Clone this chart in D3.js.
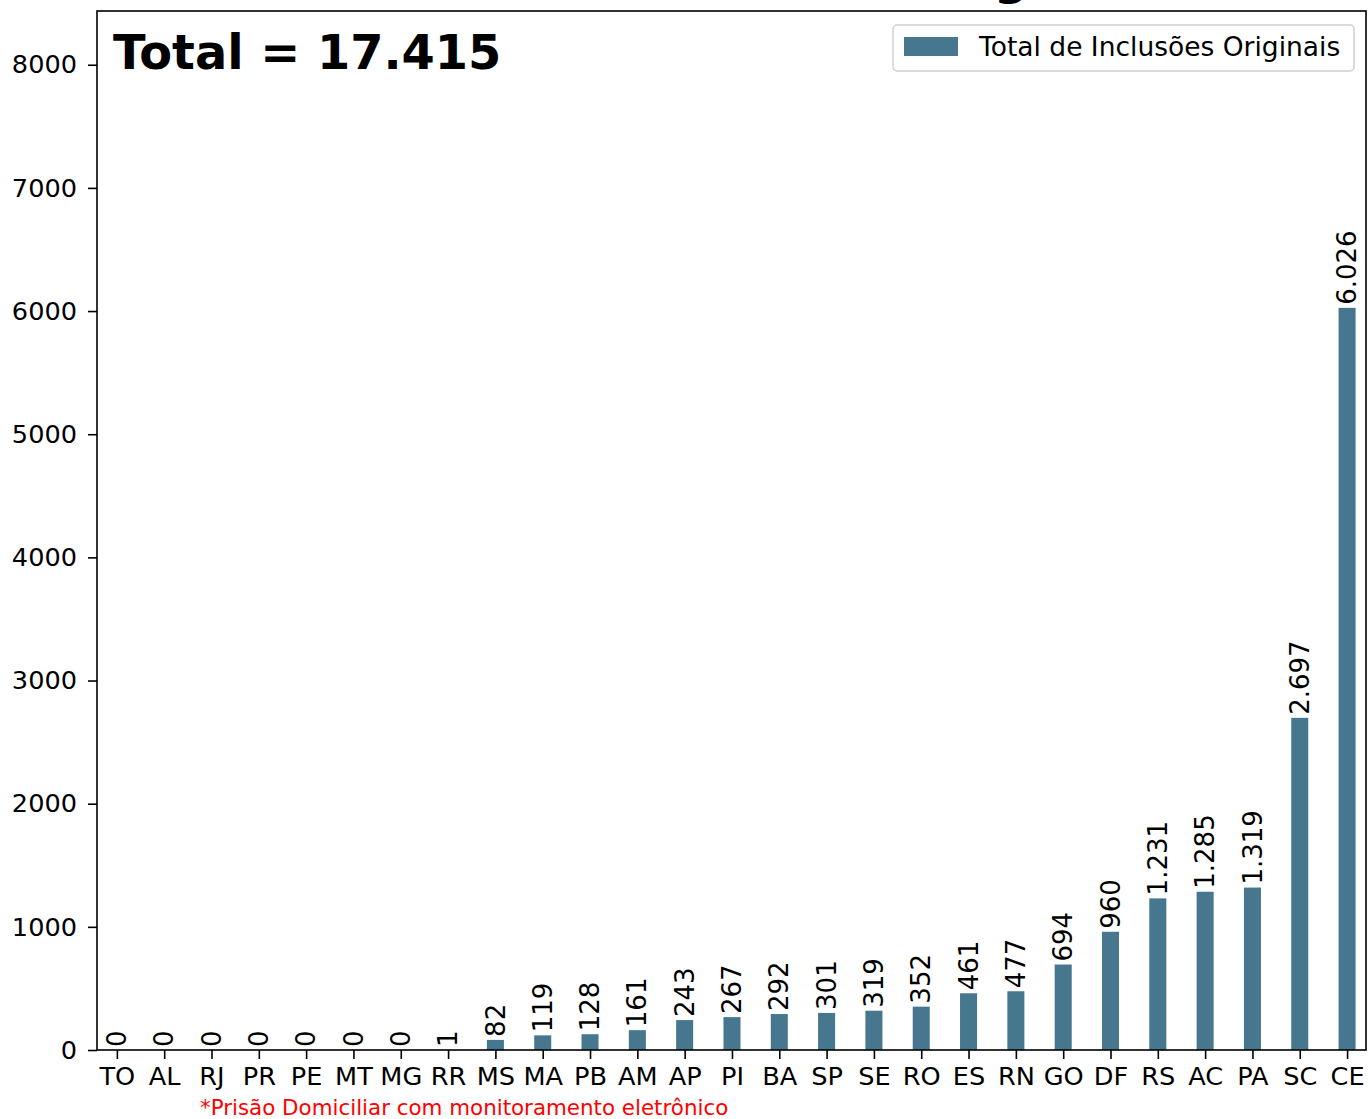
<!DOCTYPE html>
<html><head><meta charset="utf-8">
<script src="https://cdn.jsdelivr.net/npm/d3@7"></script>
<style>body{margin:0;background:#fff}svg{display:block;font-family:"DejaVu Sans",sans-serif}</style>
</head><body>
<svg id="c" width="1370" height="1119"></svg>
<script>
const categories = ["TO","AL","RJ","PR","PE","MT","MG","RR","MS","MA","PB","AM","AP","PI","BA","SP","SE","RO","ES","RN","GO","DF","RS","AC","PA","SC","CE"];
const values = [0,0,0,0,0,0,0,1,82,119,128,161,243,267,292,301,319,352,461,477,694,960,1231,1285,1319,2697,6026];
const yTicks = [0,1000,2000,3000,4000,5000,6000,7000,8000];
const seriesName = "Total de Inclusões Originais";
const totalLabel = "Total = 17.415";
const footnote = "*Prisão Domiciliar com monitoramento eletrônico";

const fmt = v => d3.format(",")(v).replace(/,/g, ".");
const color = "#46778f";
const L = 97, R = 1366, T = 11, B = 1050;
const svg = d3.select("#c");

const x = d3.scaleLinear().domain([-0.42, categories.length - 1 + 0.4]).range([L, R]);
const y = d3.scaleLinear().domain([0, 6026 * 1.4]).range([B, T]);
const bw = x(0.36) - x(0);

// title fragment (cut off at top, as in the reference)
svg.append("text").attr("x", 1011).attr("y", -6).attr("text-anchor", "middle")
  .attr("font-size", 48).attr("font-weight", "bold").text("g");

// bars
svg.append("g").selectAll("rect").data(values).join("rect")
  .attr("x", (d, i) => x(i) - bw / 2).attr("width", bw)
  .attr("y", d => y(d)).attr("height", d => B - y(d))
  .attr("fill", color);

// value labels
svg.append("g").selectAll("text").data(values).join("text")
  .attr("transform", (d, i) => `translate(${x(i)},${y(d) - 3}) rotate(-90)`)
  .attr("dy", "0.35em").attr("font-size", 26).attr("fill", "#000")
  .text(d => fmt(d));

// axes
const xAxis = d3.axisBottom(x).tickValues(d3.range(categories.length))
  .tickFormat(i => categories[i]).tickSize(9).tickPadding(8);
const gx = svg.append("g").attr("transform", `translate(0,${B})`).call(xAxis);
gx.select(".domain").remove();
gx.selectAll("text").attr("font-size", 25.6).attr("font-family", "DejaVu Sans").attr("fill", "#000");
gx.selectAll("line").attr("stroke", "#000").attr("stroke-width", 1.6);

const yAxis = d3.axisLeft(y).tickValues(yTicks).tickFormat(d => d).tickSize(9).tickPadding(11);
const gy = svg.append("g").attr("transform", `translate(${L},0)`).call(yAxis);
gy.select(".domain").remove();
gy.selectAll("text").attr("font-size", 25.6).attr("font-family", "DejaVu Sans").attr("fill", "#000");
gy.selectAll("line").attr("stroke", "#000").attr("stroke-width", 1.6);

// frame
svg.append("rect").attr("x", L).attr("y", T).attr("width", R - L).attr("height", B - T)
  .attr("fill", "none").attr("stroke", "#000").attr("stroke-width", 1.6);

// total
svg.append("text").attr("x", 113).attr("y", 69).attr("font-size", 47.8).attr("font-weight", "bold").text(totalLabel);

// legend
const lg = svg.append("g");
lg.append("rect").attr("x", 893).attr("y", 25).attr("width", 461).attr("height", 46).attr("rx", 4)
  .attr("fill", "#fff").attr("stroke", "#d0d0d0").attr("stroke-width", 1.5);
lg.append("rect").attr("x", 904).attr("y", 37).attr("width", 54).attr("height", 19).attr("fill", color);
lg.append("text").attr("x", 979).attr("y", 56).attr("font-size", 26.5).text(seriesName);

// footnote
svg.append("text").attr("x", 200).attr("y", 1115).attr("font-size", 21.4).attr("fill", "red").text(footnote);
</script>
</body></html>
